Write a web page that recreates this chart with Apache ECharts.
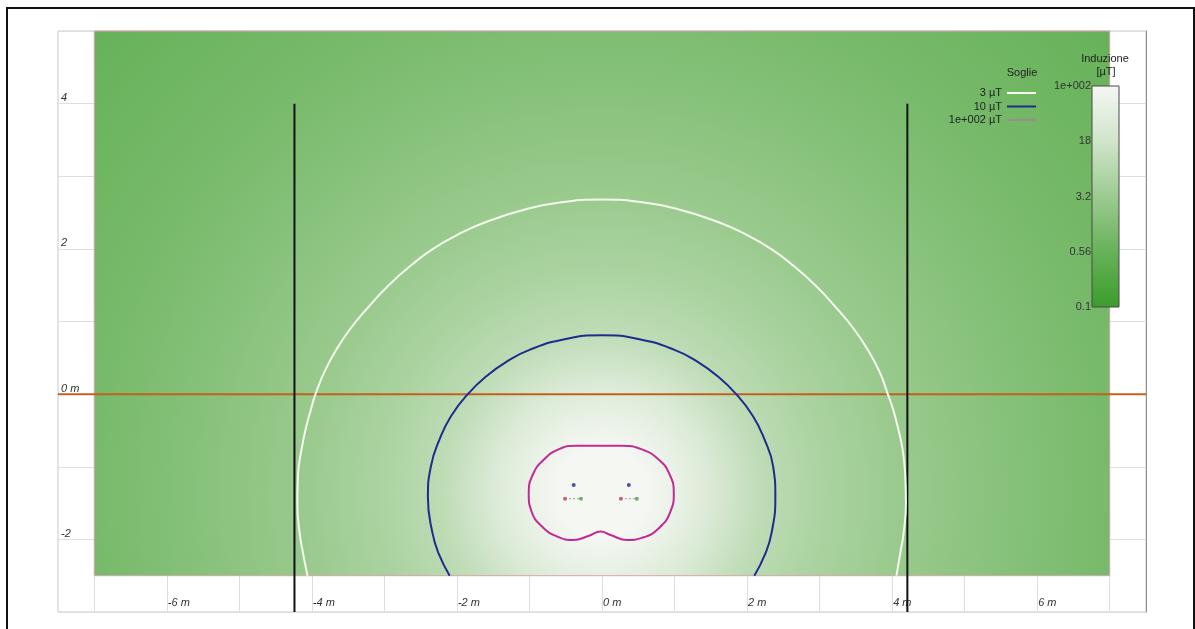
<!DOCTYPE html>
<html>
<head>
<meta charset="utf-8">
<script src="https://cdn.jsdelivr.net/npm/echarts@6/dist/echarts.min.js"></script>
<style>
  html, body { margin: 0; padding: 0; background: #ffffff; }
  #chart { width: 1195px; height: 629px; }
</style>
</head>
<body>
<div id="chart"></div>
<script>
// ---- Section geometry (metres) ----
const xRange = [-7.5, 7.5];
const yRange = [-3, 5];
const fieldX = [-7, 7];          // extent of the computed field
const fieldY = [-2.5, 5];
const groundLevel = 0;           // ground surface
const boundaryX = [-4.24, 4.21]; // limits of the right of way
const boundaryTop = 4;

// ---- Grid lines and tick labels ----
const xGridValues = [-7, -6, -5, -4, -3, -2, -1, 0, 1, 2, 3, 4, 5, 6, 7];
const xTickValues = [-6, -4, -2, 0, 2, 4, 6];
const xTickLabels = ['-6 m', '-4 m', '-2 m', '0 m', '2 m', '4 m', '6 m'];
const yTickValues = [4, 2, 0, -2];
const yTickLabels = ['4', '2', '0 m', '-2'];

// ---- Cable triplets (x, y in m) ----
const phaseA = [[-0.39, -1.25], [0.37, -1.25]];
const phaseB = [[-0.51, -1.44], [0.26, -1.44]];
const phaseC = [[-0.29, -1.44], [0.48, -1.44]];

// ---- Threshold contours ----
const contour3 = [
  [-4.06, -2.5], [-4.12, -2.2], [-4.17, -1.9], [-4.20, -1.5], [-4.19, -1.1],
  [-4.15, -0.8], [-4.09, -0.5], [-4.01, -0.2], [-3.95, 0], [-3.83, 0.3],
  [-3.67, 0.6], [-3.47, 0.9], [-3.22, 1.2], [-2.94, 1.5], [-2.60, 1.8],
  [-2.33, 2.0], [-2.00, 2.19], [-1.60, 2.37], [-1.00, 2.56], [-0.50, 2.65],
  [0, 2.68],
  [0.50, 2.65], [1.00, 2.56], [1.60, 2.37], [2.00, 2.19], [2.33, 2.0],
  [2.60, 1.8], [2.94, 1.5], [3.22, 1.2], [3.47, 0.9], [3.67, 0.6],
  [3.83, 0.3], [3.94, 0], [4.01, -0.2], [4.09, -0.5], [4.15, -0.8],
  [4.18, -1.1], [4.19, -1.5], [4.16, -1.9], [4.11, -2.2], [4.06, -2.5]
];
const contour10 = [
  [-2.10, -2.5], [-2.25, -2.2], [-2.34, -1.9], [-2.40, -1.42], [-2.36, -1.0],
  [-2.23, -0.6], [-2.08, -0.3], [-1.85, 0], [-1.59, 0.25], [-1.31, 0.45],
  [-1.00, 0.61], [-0.50, 0.76], [0, 0.81],
  [0.50, 0.76], [1.00, 0.61], [1.31, 0.45], [1.59, 0.25], [1.85, 0],
  [2.08, -0.3], [2.23, -0.6], [2.36, -1.0], [2.39, -1.42], [2.34, -1.9],
  [2.25, -2.2], [2.10, -2.5]
];
const contour100 = [
  [-0.05, -0.71], [0.27, -0.71], [0.55, -0.76], [0.78, -0.90], [0.93, -1.10],
  [0.99, -1.37], [0.95, -1.60], [0.78, -1.85], [0.55, -1.98], [0.35, -2.01],
  [0.12, -1.94], [-0.02, -1.89], [-0.18, -1.95], [-0.40, -2.01], [-0.62, -1.96],
  [-0.82, -1.83], [-0.97, -1.62], [-1.01, -1.37], [-0.95, -1.10], [-0.80, -0.90],
  [-0.60, -0.76], [-0.36, -0.71], [-0.05, -0.71]
];

// ---- Induction (µT) against distance from the cable centre ----
const fieldCentre = [0, -1.35];
const shadeDist  = [0,   0.6, 1.0, 1.5, 2.2, 3.0, 4.1, 5.5, 7.0, 9.5];
const shadeLevel = [100, 100, 60,  30,  10,  5.5, 3.0, 1.7, 1.0, 0.55];

// ---- Colour scale ----
const scaleValues = [0.1, 0.56, 3.2, 18, 100];
const scaleLabels = ['0.1', '0.56', '3.2', '18', '1e+002'];
const scaleColors = ['#3c9c2c', '#66b258', '#9ccb90', '#d0e5ca', '#f5f7f3'];

const FONT = '"Liberation Sans", Arial, sans-serif';

function hexToRgb(h) {
  const n = parseInt(h.slice(1), 16);
  return [(n >> 16) & 255, (n >> 8) & 255, n & 255];
}
// colour for an induction value, interpolated on the logarithmic scale
function levelColor(v) {
  const lv = Math.log10(v);
  const ls = scaleValues.map(Math.log10);
  if (lv <= ls[0]) return scaleColors[0];
  if (lv >= ls[ls.length - 1]) return scaleColors[scaleColors.length - 1];
  let i = 0;
  while (lv > ls[i + 1]) i++;
  const t = (lv - ls[i]) / (ls[i + 1] - ls[i]);
  const a = hexToRgb(scaleColors[i]), b = hexToRgb(scaleColors[i + 1]);
  const c = a.map((x, k) => Math.round(x + (b[k] - x) * t));
  return 'rgb(' + c.join(',') + ')';
}

function pickLabel(values, labels) {
  return function (v) {
    for (let i = 0; i < values.length; i++) {
      if (Math.abs(values[i] - v) < 1e-6) return labels[i];
    }
    return '';
  };
}

const chart = echarts.init(document.getElementById('chart'), null, { renderer: 'canvas' });

const option = {
  backgroundColor: '#ffffff',
  animation: false,
  textStyle: { fontFamily: FONT },
  grid: [
    { left: 58, top: 31, width: 1088, height: 581, show: true, borderColor: '#c9c9c9', borderWidth: 1, backgroundColor: '#ffffff' },
    { left: 1092, top: 86, width: 27, height: 221, show: false }
  ],
  xAxis: [
    {
      type: 'value', gridIndex: 0, min: xRange[0], max: xRange[1],
      axisLine: { show: false },
      axisTick: { show: false, customValues: xGridValues },
      splitLine: { show: true, lineStyle: { color: '#dedede', width: 1 } },
      axisLabel: {
        customValues: xTickValues,
        inside: true, margin: 4, align: 'left', padding: [0, 0, 0, 1],
        fontSize: 11, fontStyle: 'italic', color: '#333', fontFamily: FONT,
        formatter: pickLabel(xTickValues, xTickLabels)
      }
    },
    { type: 'value', gridIndex: 1, min: 0, max: 1, show: false }
  ],
  yAxis: [
    {
      type: 'value', gridIndex: 0, min: yRange[0], max: yRange[1], interval: 1,
      axisLine: { show: false }, axisTick: { show: false },
      splitLine: { show: true, lineStyle: { color: '#dedede', width: 1 } },
      axisLabel: {
        inside: true, margin: 3, align: 'left', verticalAlign: 'bottom',
        fontSize: 11, fontStyle: 'italic', color: '#333', fontFamily: FONT,
        showMinLabel: false, showMaxLabel: false,
        formatter: pickLabel(yTickValues, yTickLabels)
      }
    },
    {
      type: 'value', gridIndex: 1, min: 0, max: 4, interval: 1, position: 'left', z: 20,
      axisLine: { show: false }, axisTick: { show: false }, splitLine: { show: false },
      axisLabel: {
        margin: 1, fontSize: 11, color: '#333', fontFamily: FONT,
        formatter: function (v) { return scaleLabels[Math.round(v)] || ''; }
      }
    },
    {
      type: 'value', gridIndex: 0, min: yRange[0], max: yRange[1], position: 'right',
      axisLine: { show: true, lineStyle: { color: '#8c8c8c', width: 1 } },
      axisTick: { show: false }, axisLabel: { show: false }, splitLine: { show: false }
    }
  ],
  legend: {
    orient: 'vertical', align: 'right', icon: 'rect',
    itemWidth: 29, itemHeight: 2, itemGap: 1.5,
    right: 159, top: 87, padding: 0, selectedMode: false,
    textStyle: { fontSize: 11, lineHeight: 12, color: '#222', fontFamily: FONT },
    data: [
      { name: '3 µT' },
      { name: '10 µT' },
      { name: '1e+002 µT', itemStyle: { color: '#9d8a92' } }
    ]
  },
  graphic: [
    {
      type: 'rect', silent: true, z: 100,
      shape: { x: 7, y: 8, width: 1187, height: 640 },
      style: { fill: null, stroke: '#111111', lineWidth: 2 }
    },
    {
      type: 'text', x: 1022, y: 73, z: 100,
      style: { text: 'Soglie', font: '11px ' + FONT, fill: '#222', align: 'center', verticalAlign: 'middle' }
    },
    {
      type: 'text', x: 1105, y: 59, z: 100,
      style: { text: 'Induzione', font: '11px ' + FONT, fill: '#222', align: 'center', verticalAlign: 'middle' }
    },
    {
      type: 'text', x: 1106, y: 72, z: 100,
      style: { text: '[µT]', font: '11px ' + FONT, fill: '#222', align: 'center', verticalAlign: 'middle' }
    }
  ],
  series: [
    // computed induction field, shaded with the colour scale
    {
      type: 'custom', xAxisIndex: 0, yAxisIndex: 0, silent: true, z: 1,
      encode: { x: [0, 2], y: [1, 3] },
      data: [[fieldX[0], fieldY[1], fieldX[1], fieldY[0]]],
      renderItem: function (params, api) {
        const p0 = api.coord([api.value(0), api.value(1)]);
        const p1 = api.coord([api.value(2), api.value(3)]);
        const c = api.coord(fieldCentre);
        const dMax = shadeDist[shadeDist.length - 1];
        const rPx = api.size([dMax, 0])[0];
        const stops = shadeDist.map(function (d, i) {
          return { offset: d / dMax, color: levelColor(shadeLevel[i]) };
        });
        return {
          type: 'rect',
          shape: { x: p0[0], y: p0[1], width: p1[0] - p0[0], height: p1[1] - p0[1] },
          style: {
            fill: { type: 'radial', x: c[0], y: c[1], r: rPx, global: true, colorStops: stops },
            stroke: '#d9a3ad', lineWidth: 1
          }
        };
      }
    },
    // colour bar
    {
      type: 'custom', xAxisIndex: 1, yAxisIndex: 1, silent: true, z: 10,
      encode: { x: [0, 2], y: [1, 3] },
      data: [[0, scaleValues.length - 1, 1, 0]],
      renderItem: function (params, api) {
        const p0 = api.coord([api.value(0), api.value(1)]);
        const p1 = api.coord([api.value(2), api.value(3)]);
        const n = scaleColors.length;
        const stops = scaleColors.map(function (col, i) {
          return { offset: 1 - i / (n - 1), color: col };
        });
        return {
          type: 'rect',
          shape: { x: p0[0], y: p0[1], width: p1[0] - p0[0], height: p1[1] - p0[1] },
          style: {
            fill: { type: 'linear', x: 0, y: 0, x2: 0, y2: 1, colorStops: stops },
            stroke: '#4a4a4a', lineWidth: 1
          }
        };
      }
    },
    // ground surface
    {
      name: 'suolo', type: 'line', xAxisIndex: 0, yAxisIndex: 0, z: 4, silent: true,
      symbol: 'none', color: '#c2611d', lineStyle: { width: 2, color: '#c2611d' },
      data: [[xRange[0], groundLevel], [xRange[1], groundLevel]]
    },
    // right-of-way limits
    {
      name: 'limite sx', type: 'line', xAxisIndex: 0, yAxisIndex: 0, z: 4, silent: true,
      symbol: 'none', color: '#111', lineStyle: { width: 2, color: '#111' },
      data: [[boundaryX[0], boundaryTop], [boundaryX[0], yRange[0]]]
    },
    {
      name: 'limite dx', type: 'line', xAxisIndex: 0, yAxisIndex: 0, z: 4, silent: true,
      symbol: 'none', color: '#111', lineStyle: { width: 2, color: '#111' },
      data: [[boundaryX[1], boundaryTop], [boundaryX[1], yRange[0]]]
    },
    // threshold contours
    {
      name: '3 µT', type: 'line', xAxisIndex: 0, yAxisIndex: 0, z: 5, silent: true,
      symbol: 'none', smooth: 0.5, color: '#f4fbee',
      lineStyle: { width: 2, color: '#f4fbee' }, data: contour3
    },
    {
      name: '10 µT', type: 'line', xAxisIndex: 0, yAxisIndex: 0, z: 5, silent: true,
      symbol: 'none', smooth: 0.5, color: '#1d2d8c',
      lineStyle: { width: 2, color: '#1d2d8c' }, data: contour10
    },
    {
      name: '1e+002 µT', type: 'line', xAxisIndex: 0, yAxisIndex: 0, z: 5, silent: true,
      symbol: 'none', smooth: 0.5, color: '#c42a95',
      lineStyle: { width: 2, color: '#c42a95' }, data: contour100
    },
    // link between the lower conductors of each triplet
    {
      name: 'link', type: 'line', xAxisIndex: 0, yAxisIndex: 0, z: 6, silent: true,
      symbol: 'none', color: '#9a9a9a',
      lineStyle: { width: 1, color: '#9a9a9a', type: [2, 2] },
      data: [phaseB[0], phaseC[0], '-', phaseB[1], phaseC[1]].map(function (p) {
        return p === '-' ? ['-', '-'] : p;
      })
    },
    // conductors
    {
      name: 'fase 1', type: 'scatter', xAxisIndex: 0, yAxisIndex: 0, z: 7, silent: true,
      symbolSize: 4, itemStyle: { color: '#1b2a8c' }, data: phaseA
    },
    {
      name: 'fase 2', type: 'scatter', xAxisIndex: 0, yAxisIndex: 0, z: 7, silent: true,
      symbolSize: 4, itemStyle: { color: '#a85050' }, data: phaseB
    },
    {
      name: 'fase 3', type: 'scatter', xAxisIndex: 0, yAxisIndex: 0, z: 7, silent: true,
      symbolSize: 4, itemStyle: { color: '#4f9c4f' }, data: phaseC
    }
  ]
};

chart.setOption(option);
</script>
</body>
</html>
